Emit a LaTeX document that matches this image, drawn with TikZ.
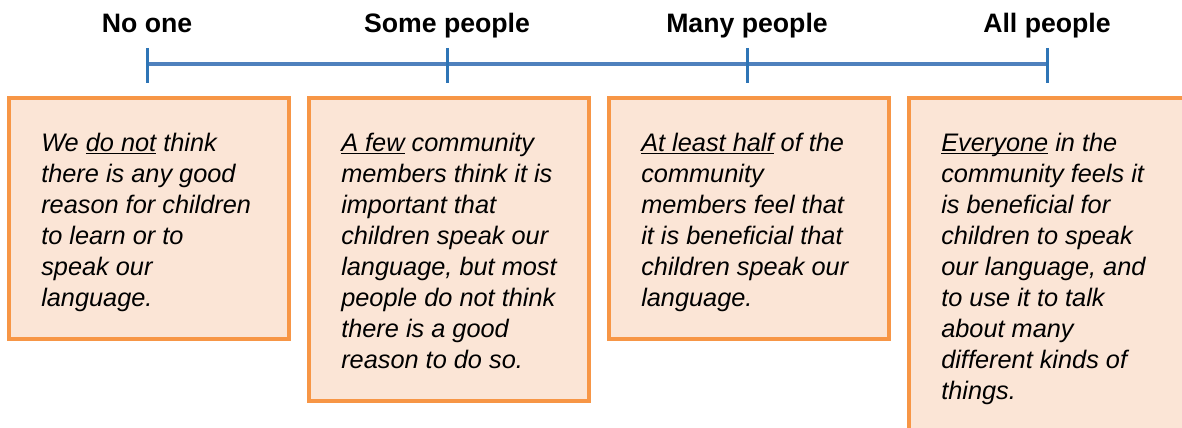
\documentclass[tikz,border=0pt]{standalone}
\usepackage{fontspec}
\setmainfont{Liberation Sans}
\usepackage{tikz}
\usetikzlibrary{positioning}

\definecolor{scaleblue}{HTML}{4F81BD}
\definecolor{tickblue}{HTML}{2E75B6}
\definecolor{boxline}{HTML}{F79646}
\definecolor{boxfill}{HTML}{FBE5D6}
\newcommand{\uln}[1]{\underline{\smash{#1}}}

\tikzset{
  heading/.style={font=\fontsize{20}{24}\selectfont\bfseries, inner sep=0pt, anchor=base},
  level/.style={draw=boxline, fill=boxfill, line width=3pt, inner sep=0pt, outer sep=0pt,
    anchor=north west, minimum width=210pt},
  bodytext/.style={font=\fontsize{19}{23.25}\selectfont\itshape, align=left, inner sep=0pt},
  tick/.style={draw=tickblue, line width=2.25pt}
}

\begin{document}
\begin{tikzpicture}[x=0.75pt,y=-0.75pt]
\useasboundingbox (0,0) rectangle (1182,428);
\clip (0,0) rectangle (1182,428);
% the scale
\coordinate (T1) at (147,64);
\coordinate (T2) at (447,64);
\coordinate (T3) at (747,64);
\coordinate (T4) at (1047,64);
\draw[scaleblue, line width=3pt] (T1) -- (T4);
\path[tick] ([yshift=12pt]T1) -- ([yshift=-14.25pt]T1);
\path[tick] ([yshift=12pt]T2) -- ([yshift=-14.25pt]T2);
\path[tick] ([yshift=12pt]T3) -- ([yshift=-14.25pt]T3);
\path[tick] ([yshift=12pt]T4) -- ([yshift=-14.25pt]T4);
\node[heading] (H1) at (147,33) {No one};
\node[heading] (H2) at (447,33) {Some people};
\node[heading] (H3) at (747,33) {Many people};
\node[heading] (H4) at (1047,33) {All people};
% the boxes
\node[level, minimum height=180.75pt] (B1) at (9,98) {};
\node[level, minimum height=227.25pt] (B2) at (309,98) {};
\node[level, minimum height=180.75pt] (B3) at (609,98) {};
\node[level, minimum width=300pt, minimum height=300pt] (B4) at (909,98) {};
\node[bodytext, below right=25.9pt and 24pt of B1.north west] (L1) {We \uln{do not} think\\there is any good\\reason for children\\to learn or to\\speak our\\language.};
\node[bodytext, below right=25.9pt and 24pt of B2.north west] (L2) {\uln{A few} community\\members think it is\\important that\\children speak our\\language, but most\\people do not think\\there is a good\\reason to do so.};
\node[bodytext, below right=25.9pt and 24pt of B3.north west] (L3) {\uln{At least half} of the\\community\\members feel that\\it is beneficial that\\children speak our\\language.};
\node[bodytext, below right=25.9pt and 24pt of B4.north west] (L4) {\uln{Everyone} in the\\community feels it\\is beneficial for\\children to speak\\our language, and\\to use it to talk\\about many\\different kinds of\\things.};
\end{tikzpicture}
\end{document}
